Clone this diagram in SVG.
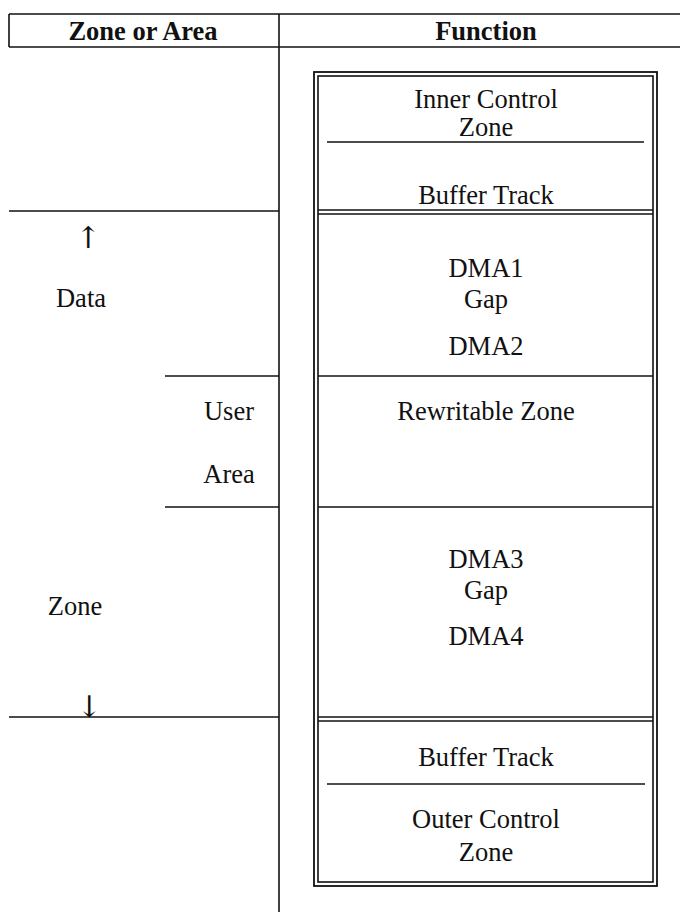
<svg xmlns="http://www.w3.org/2000/svg" width="680" height="913" viewBox="0 0 680 913">
<style>
.ln{stroke:#111;stroke-width:1.6;fill:none}
.bx{stroke:#111;stroke-width:1.8;fill:none}
.t{font-family:"Liberation Serif","Times New Roman",serif;font-size:26.5px;fill:#111;text-anchor:middle}
.h{font-family:"Liberation Serif","Times New Roman",serif;font-size:26.5px;font-weight:bold;fill:#111;text-anchor:middle}
.ar{font-family:"DejaVu Serif","Liberation Serif",serif;font-size:30px;fill:#111;text-anchor:middle}
</style>
<rect width="680" height="913" fill="#fff"/>
<g id="header">
<line class="ln" x1="9" y1="14" x2="680" y2="14"/>
<line class="ln" x1="9" y1="47" x2="680" y2="47"/>
<line class="ln" x1="9" y1="14" x2="9" y2="47"/>
<text class="h" x="143" y="40">Zone or Area</text>
<text class="h" x="486" y="40">Function</text>
</g>
<g id="connectors">
<line class="ln" x1="279" y1="14" x2="279" y2="912"/>
<line class="ln" x1="9" y1="211" x2="279" y2="211"/>
<line class="ln" x1="165" y1="376" x2="279" y2="376"/>
<line class="ln" x1="165" y1="507" x2="279" y2="507"/>
<line class="ln" x1="9" y1="717" x2="279" y2="717"/>
</g>
<g id="zone-labels">
<text class="ar" x="88" y="248">↑</text>
<text class="t" x="81" y="307">Data</text>
<text class="t" x="229" y="420">User</text>
<text class="t" x="229" y="483">Area</text>
<text class="t" x="75" y="615">Zone</text>
<text class="ar" x="89" y="717">↓</text>
</g>
<g id="function-box">
<rect class="bx" x="314" y="72" width="343" height="814"/>
<rect class="ln" x="318" y="76" width="335" height="806"/>
</g>
<g id="inner-control">
<text class="t" x="486" y="108">Inner Control</text>
<text class="t" x="486" y="136">Zone</text>
<line class="ln" x1="327" y1="142" x2="644" y2="142"/>
<text class="t" x="486" y="204">Buffer Track</text>
<line class="ln" x1="318" y1="210" x2="653" y2="210"/>
<line class="ln" x1="318" y1="214" x2="653" y2="214"/>
</g>
<g id="dma12">
<text class="t" x="486" y="277">DMA1</text>
<text class="t" x="486" y="308">Gap</text>
<text class="t" x="486" y="355">DMA2</text>
<line class="ln" x1="318" y1="376" x2="653" y2="376"/>
</g>
<g id="rewritable">
<text class="t" x="486" y="420">Rewritable Zone</text>
<line class="ln" x1="318" y1="507" x2="653" y2="507"/>
</g>
<g id="dma34">
<text class="t" x="486" y="568">DMA3</text>
<text class="t" x="486" y="599">Gap</text>
<text class="t" x="486" y="645">DMA4</text>
<line class="ln" x1="318" y1="717" x2="653" y2="717"/>
<line class="ln" x1="318" y1="721" x2="653" y2="721"/>
</g>
<g id="outer-control">
<text class="t" x="486" y="766">Buffer Track</text>
<line class="ln" x1="327" y1="784" x2="645" y2="784"/>
<text class="t" x="486" y="828">Outer Control</text>
<text class="t" x="486" y="861">Zone</text>
</g>
</svg>
